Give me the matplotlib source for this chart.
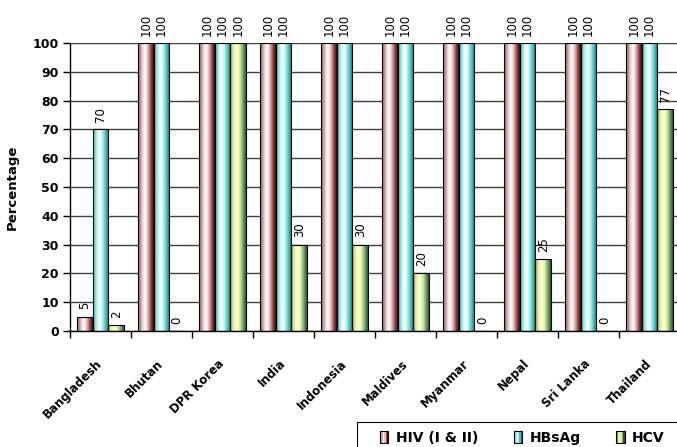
import numpy as np
import matplotlib
matplotlib.use("Agg")
import matplotlib.pyplot as plt
import matplotlib.transforms as mtransforms
from matplotlib.colors import LinearSegmentedColormap
from matplotlib.patches import Rectangle
from matplotlib.legend_handler import HandlerBase

countries = ['Bangladesh', 'Bhutan', 'DPR Korea', 'India', 'Indonesia',
             'Maldives', 'Myanmar', 'Nepal', 'Sri Lanka', 'Thailand']
hiv = [5, 100, 100, 100, 100, 100, 100, 100, 100, 100]
hbsag = [70, 100, 100, 100, 100, 100, 100, 100, 100, 100]
hcv = [2, 0, 100, 30, 30, 20, 0, 25, 0, 77]
series_names = ['HIV (I & II)', 'HBsAg', 'HCV']

# cylinder-like shading across each bar, left to right
shades = {
    'HIV (I & II)': ['#9a6060', '#c09090', '#e8d8d8', '#ffffff', '#e8d4d4',
                     '#b88888', '#8a3030', '#5a0000'],
    'HBsAg': ['#30b4b4', '#80dede', '#d8f6f6', '#ffffff', '#c8f0f0',
              '#70d8d8', '#30b0b0', '#1a7070'],
    'HCV': ['#70a870', '#c8e0a0', '#f4f8c0', '#ffffc8', '#f0f4b0',
            '#a8cc88', '#5a985a', '#2a5a2a'],
}
cmaps = {k: LinearSegmentedColormap.from_list(k, v) for k, v in shades.items()}
grad = np.linspace(0, 1, 64).reshape(1, -1)

plt.rcParams['font.family'] = 'DejaVu Sans'
fig = plt.figure(figsize=(6.77, 4.47), dpi=100)
ax = fig.add_axes([70 / 677, 1 - 331 / 447, 607 / 677, 288 / 447])

x = np.arange(len(countries))
w = 0.258
xlim = (-0.5, 9.45)
ylim = (0, 100)

ax.set_axisbelow(True)
ax.yaxis.grid(True, color='#404040', linewidth=1.0)

for i, (name, vals) in enumerate(zip(series_names, [hiv, hbsag, hcv])):
    pos = x + (i - 1) * w
    bars = ax.bar(pos, vals, w, facecolor='none', edgecolor='black',
                  linewidth=0.8, zorder=3)
    for rect, v in zip(bars, vals):
        if v > 0:
            x0 = rect.get_x()
            im = ax.imshow(grad, cmap=cmaps[name], aspect='auto',
                           extent=(x0, x0 + rect.get_width(), 0, v),
                           zorder=2, interpolation='bilinear')
            im.set_clip_path(rect)
        ax.text(rect.get_x() + rect.get_width() / 2, v + 2.6, str(v),
                rotation=90, ha='center', va='bottom', fontsize=8.5,
                clip_on=False)

ax.set_xlim(*xlim)
ax.set_ylim(*ylim)
ax.set_yticks(range(0, 101, 10))
ax.set_yticklabels([str(t) for t in range(0, 101, 10)], fontsize=9,
                   fontweight='bold')
ax.set_xticks(np.arange(-0.5, 9.5, 1.0))
ax.set_xticklabels([])
ax.set_xticks(x, minor=True)
ax.set_xticklabels(countries, minor=True, rotation=45, ha='right',
                   va='center', rotation_mode='anchor', fontsize=8.5,
                   fontweight='bold')
shift = mtransforms.ScaledTranslation(-8 / 100, 0, fig.dpi_scale_trans)
for lab in ax.get_xticklabels(minor=True):
    lab.set_transform(lab.get_transform() + shift)
ax.tick_params(axis='x', which='minor', length=0, pad=22)
ax.tick_params(axis='x', which='major', length=5, width=1, direction='out')
ax.tick_params(axis='y', length=5, width=1, direction='out', pad=3)
for s in ['top', 'right']:
    ax.spines[s].set_visible(False)
ax.spines['left'].set_linewidth(1)
ax.spines['bottom'].set_linewidth(1)
ax.set_ylabel('Percentage', fontsize=9.5, fontweight='bold', labelpad=10)


class GradientHandler(HandlerBase):
    def create_artists(self, legend, orig_handle, xdescent, ydescent,
                       width, height, fontsize, trans):
        cmap = cmaps[orig_handle.get_label()]
        n = 6
        sw = width / n
        artists = []
        for k in range(n):
            artists.append(Rectangle((-xdescent + k * sw, -ydescent), sw,
                                     height, facecolor=cmap(k / (n - 1)),
                                     edgecolor='none', transform=trans))
        artists.append(Rectangle((-xdescent, -ydescent), width, height,
                                 facecolor='none', edgecolor='black',
                                 linewidth=0.8, transform=trans))
        return artists


# legend box runs off the right and bottom edges
fig.patches.append(Rectangle((357 / 677, -0.02), 0.5, 0.02 + 25 / 447,
                             transform=fig.transFigure, facecolor='white',
                             edgecolor='black', linewidth=0.8))

handles = [Rectangle((0, 0), 1, 1, label=n) for n in series_names]
leg = fig.legend(handles=handles, labels=series_names, ncol=3,
                 loc='center left', bbox_to_anchor=(380 / 677, 1 - 438 / 447),
                 handler_map={Rectangle: GradientHandler()},
                 prop={'weight': 'bold', 'size': 10}, frameon=False,
                 handlelength=0.6, handleheight=0.9, handletextpad=0.55,
                 columnspacing=2.55, borderpad=0, borderaxespad=0)

fig.savefig('out.png', dpi=100)
